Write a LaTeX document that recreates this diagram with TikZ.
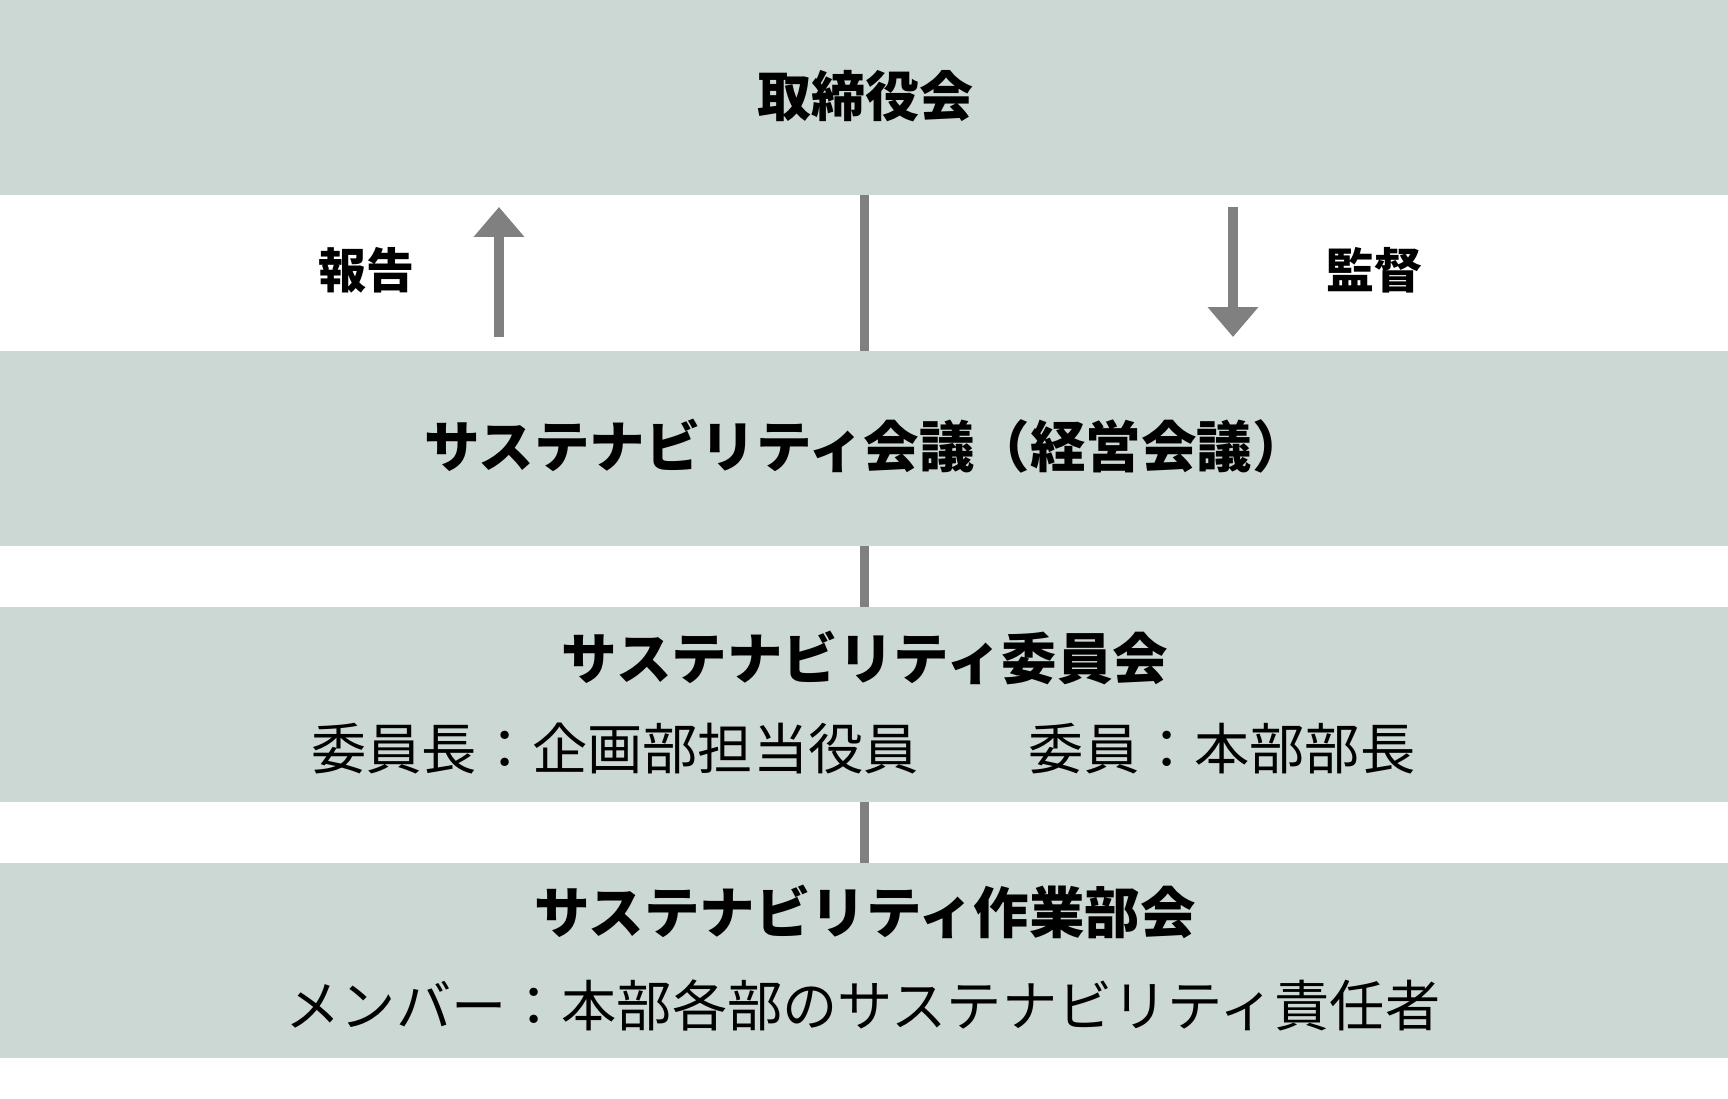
\documentclass[tikz,border=0pt]{standalone}
\usepackage{fontspec}
\usepackage{xcolor}
\usepackage{tikz}
\usetikzlibrary{arrows.meta}
\setmainfont{Noto Sans CJK JP}
\definecolor{bandgray}{RGB}{203,216,212}
\definecolor{linegray}{RGB}{128,128,128}

\begin{document}
\begin{tikzpicture}[x=1pt,y=-1pt,
    band/.style={rectangle,fill=bandgray,minimum width=1728pt,minimum height=195pt,inner sep=0pt,anchor=north},
    title/.style={font=\fontsize{55.5}{60}\selectfont\bfseries,inner sep=0pt},
    sub/.style={font=\fontsize{55.2}{60}\selectfont,inner sep=0pt},
    tag/.style={font=\fontsize{48}{54}\selectfont\bfseries,inner sep=0pt},
    link/.style={draw=linegray,line width=9pt},
    flow/.style={draw=linegray,line width=10pt,-{Triangle[width=49pt,length=30pt]}}]
        \useasboundingbox (0,0) rectangle (1728,1099);
        \node[band] (board) at (864,0) {};
        \node[band] (meeting) at (864,351) {};
        \node[band] (committee) at (864,607) {};
        \node[band] (workgroup) at (864,863) {};
        \node[title,font=\fontsize{54}{60}\selectfont\bfseries] (boardtxt) at (865,96) {取締役会};
        \node[title] (meetingtxt) at (866,446) {サステナビリティ会議（経営会議）};
        \node[title] (committeetxt) at (865,658) {サステナビリティ委員会};
        \node[sub] (chair) at (615,749) {委員長：企画部担当役員};
        \node[sub] (members) at (1222,749) {委員：本部部長};
        \node[title] (workgrouptxt) at (865,912) {サステナビリティ作業部会};
        \node[sub] (wgmembers) at (863,1005) {メンバー：本部各部のサステナビリティ責任者};
        \node[tag] (report) at (366,270) {報告};
        \node[tag] (audit) at (1374,270) {監督};
        \coordinate (upfrom) at (499,337);
        \coordinate (upto) at (499,207);
        \coordinate (downfrom) at (1233,207);
        \coordinate (downto) at (1233,337);
        \path[link]
            (board.south) -- (meeting.north)
            (meeting.south) -- (committee.north)
            (committee.south) -- (workgroup.north);
        \draw[flow] (upfrom) -- (upto);
        \draw[flow] (downfrom) -- (downto);
    \end{tikzpicture}
\end{document}
